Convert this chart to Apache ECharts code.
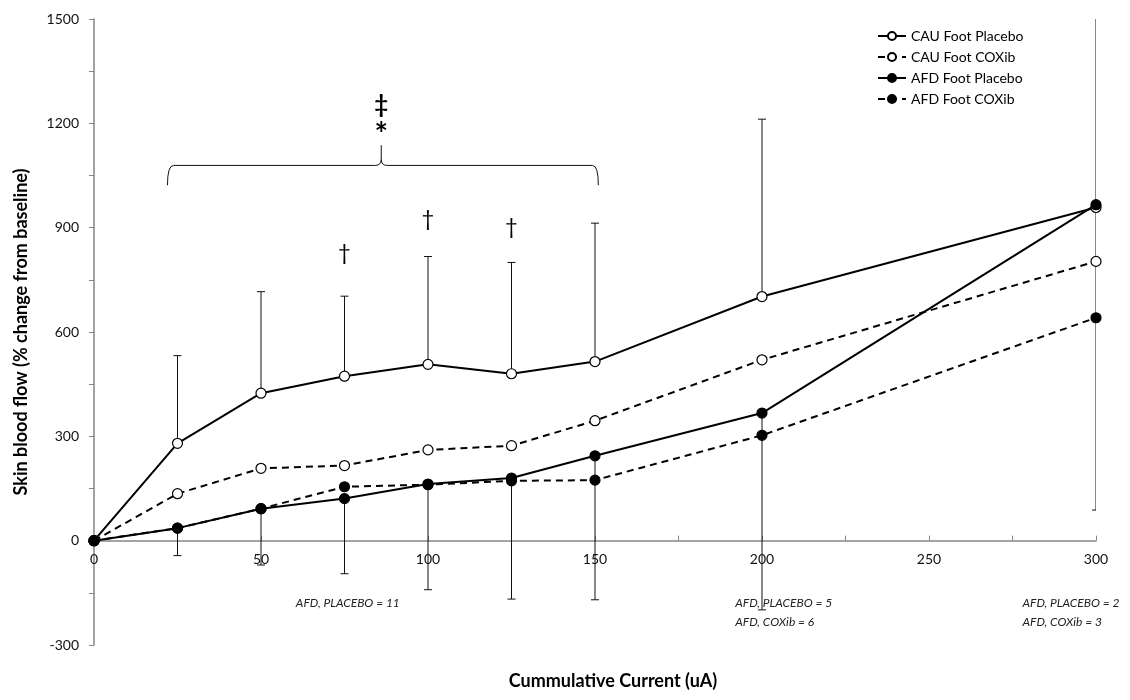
<!DOCTYPE html>
<html>
<head>
<meta charset="utf-8">
<script src="https://cdn.jsdelivr.net/npm/echarts@6/dist/echarts.min.js"></script>
<style>
  html, body { margin: 0; padding: 0; background: #fff; }
  #chartContainer { width: 1130px; height: 700px; }
</style>
</head>
<body>
<div id="chartContainer"></div>
<script>
// cumulative current (uA) and % change from baseline
const currents = [0, 25, 50, 75, 100, 125, 150, 200, 300]
const cauPlacebo = [0, 280, 424, 473, 507, 480, 515, 702, 958]
const cauCoxib = [0, 135, 208, 216, 261, 273, 345, 520, 803]
const afdPlacebo = [0, 36, 92, 121, 163, 180, 244, 367, 966]
const afdCoxib = [0, 36, 92, 155, 161, 172, 174, 303, 641]

// error bar ends: CAU placebo upwards, AFD placebo downwards
const cauPlaceboUpper = [null, 532, 716, 703, 817, 800, 913, 1212, 1900]
const afdPlaceboLower = [null, -43, -70, -95, -141, -168, -170, -199, 88]

// significance marks
const daggerX = [75, 100, 125]
const daggerY = [827, 924, 902]
const braceX = [22, 86, 151]      // left end, stem, right end
const braceY = [1022, 1079, 1137] // end tips, bar, stem top
const braceMarks = ['‡', '*']
const braceMarkY = [1252, 1165]

// group size notes under the axis
const noteText = ['AFD, PLACEBO = 11', 'AFD, PLACEBO = 5', 'AFD, COXib = 6', 'AFD, PLACEBO = 2', 'AFD, COXib = 3']
const noteX = [76, 192, 192, 278, 278]
const noteY = [-180, -180, -233, -180, -233]
const noteAlign = ['center', 'left', 'left', 'left', 'left']

const Y_MIN = -300
const Y_MAX = 1500
const GRID = { left: 94, right: 34, top: 19, bottom: 55 }

const FONT = 'Lato, "Open Sans", sans-serif'
const AXIS_GREY = '#868686'

// x axis sits on y = 0 (Excel style): shift it up from the grid bottom
const plotHeight = 700 - GRID.top - GRID.bottom
const zeroOffset = -plotHeight * (0 - Y_MIN) / (Y_MAX - Y_MIN)

const pairs = (ys) => currents.map((x, i) => [x, ys[i]])

const lineSeries = (name, ys, dashed, filled) => ({
  name,
  type: 'line',
  data: pairs(ys),
  symbol: 'circle',
  symbolSize: 10,
  showAllSymbol: true,
  z: 5,
  lineStyle: { color: '#000', width: 2, type: dashed ? [7, 5] : 'solid' },
  itemStyle: { color: filled ? '#000' : '#fff', borderColor: '#000', borderWidth: 1.2 },
  emphasis: { disabled: true }
})

const errorData = []
currents.forEach((x, i) => {
  if (cauPlaceboUpper[i] != null) errorData.push([x, cauPlacebo[i], cauPlaceboUpper[i]])
  if (afdPlaceboLower[i] != null) errorData.push([x, afdPlacebo[i], afdPlaceboLower[i]])
})

const renderErrorBar = (params, api) => {
  const p0 = api.coord([api.value(0), api.value(1)])
  const p1 = api.coord([api.value(0), api.value(2)])
  const style = { stroke: '#111', lineWidth: 1 }
  return {
    type: 'group',
    children: [
      { type: 'line', shape: { x1: p0[0], y1: p0[1], x2: p1[0], y2: p1[1] }, style },
      { type: 'line', shape: { x1: p1[0] - 4, y1: p1[1], x2: p1[0] + 4, y2: p1[1] }, style }
    ]
  }
}

const renderBrace = (params, api) => {
  const l = api.coord([braceX[0], braceY[0]])
  const m = api.coord([braceX[1], braceY[1]])
  const r = api.coord([braceX[2], braceY[0]])
  const t = api.coord([braceX[1], braceY[2]])
  const c = 6
  const d = [
    'M', l[0], l[1], 'Q', l[0], m[1], l[0] + c, m[1],
    'L', m[0] - c, m[1], 'Q', m[0], m[1], m[0], m[1] - c,
    'L', m[0], t[1],
    'M', m[0], m[1] - c, 'Q', m[0], m[1], m[0] + c, m[1],
    'L', r[0] - c, m[1], 'Q', r[0], m[1], r[0], r[1]
  ].join(' ')
  return { type: 'path', shape: { pathData: d }, style: { stroke: '#111', lineWidth: 1, fill: null } }
}

const textSeries = (xs, ys, texts, styleFor) => ({
  type: 'custom',
  data: xs.map((x, i) => [x, ys[i]]),
  z: 6,
  silent: true,
  renderItem: (params, api) => {
    const p = api.coord([api.value(0), api.value(1)])
    return {
      type: 'text',
      x: p[0],
      y: p[1],
      style: Object.assign({ text: texts[params.dataIndex], fill: '#000' }, styleFor(params.dataIndex))
    }
  }
})

const chart = echarts.init(document.getElementById('chartContainer'))

chart.setOption({
  animation: false,
  backgroundColor: '#fff',
  textStyle: { fontFamily: FONT },
  grid: Object.assign({ containLabel: false, outerBoundsMode: 'none' }, GRID),
  legend: {
    data: ['CAU Foot Placebo', 'CAU Foot COXib', 'AFD Foot Placebo', 'AFD Foot COXib'],
    orient: 'vertical',
    left: 872,
    top: 24,
    itemWidth: 28,
    itemHeight: 10,
    itemGap: 7,
    textStyle: { fontFamily: FONT, fontSize: 14, color: '#000' }
  },
  xAxis: {
    type: 'value',
    min: 0,
    max: 300,
    interval: 50,
    position: 'bottom',
    offset: zeroOffset,
    name: 'Cummulative Current (uA)',
    nameLocation: 'middle',
    nameGap: 132,
    nameTextStyle: { fontFamily: FONT, fontSize: 18, fontWeight: 'bold', color: '#000', padding: [0, 0, 0, 36] },
    axisLine: { onZero: false, lineStyle: { color: AXIS_GREY, width: 1.5 } },
    axisTick: { inside: true, length: 5, lineStyle: { color: AXIS_GREY } },
    minorTick: { show: true, splitNumber: 2, length: 5, lineStyle: { color: AXIS_GREY } },
    axisLabel: { fontFamily: FONT, fontSize: 14, color: '#111', margin: 12, formatter: (v) => String(v) },
    splitLine: { show: false }
  },
  yAxis: {
    type: 'value',
    min: Y_MIN,
    max: Y_MAX,
    interval: 300,
    name: 'Skin blood flow (% change from baseline)',
    nameLocation: 'middle',
    nameGap: 64,
    nameTextStyle: { fontFamily: FONT, fontSize: 18, fontWeight: 'bold', color: '#000' },
    axisLine: { show: true, onZero: false, lineStyle: { color: AXIS_GREY, width: 1.5 } },
    axisTick: { show: true, length: 5, lineStyle: { color: AXIS_GREY } },
    minorTick: { show: true, splitNumber: 2, length: 5, lineStyle: { color: AXIS_GREY } },
    axisLabel: { fontFamily: FONT, fontSize: 14, color: '#111', margin: 15, formatter: (v) => String(v) },
    splitLine: { show: false }
  },
  series: [
    {
      type: 'custom',
      data: errorData,
      clip: true,
      z: 3,
      silent: true,
      renderItem: renderErrorBar
    },
    lineSeries('CAU Foot Placebo', cauPlacebo, false, false),
    lineSeries('CAU Foot COXib', cauCoxib, true, false),
    lineSeries('AFD Foot Placebo', afdPlacebo, false, true),
    lineSeries('AFD Foot COXib', afdCoxib, true, true),
    {
      type: 'custom',
      data: [[braceX[1], braceY[1]]],
      z: 4,
      silent: true,
      renderItem: renderBrace
    },
    textSeries(daggerX, daggerY, daggerX.map(() => '†'), () => ({
      font: '22px ' + FONT, align: 'center', verticalAlign: 'middle'
    })),
    textSeries(braceMarks.map(() => braceX[1]), braceMarkY, braceMarks, (i) => ({
      font: (i === 0 ? 'bold 24px ' : 'bold 32px ') + FONT, align: 'center', verticalAlign: 'middle'
    })),
    textSeries(noteX, noteY, noteText, (i) => ({
      font: 'italic 12px ' + FONT, align: noteAlign[i], verticalAlign: 'middle', fill: '#222'
    }))
  ]
})
</script>
</body>
</html>
